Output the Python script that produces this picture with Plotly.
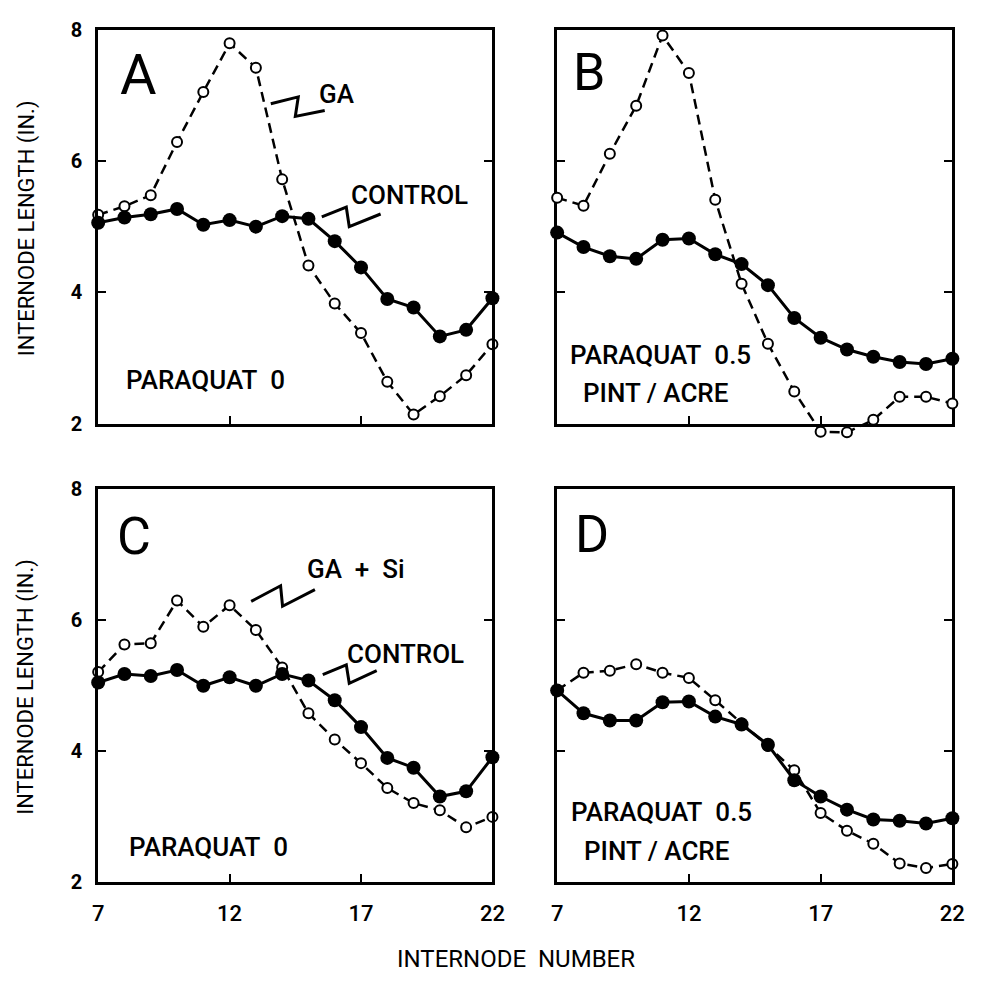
import plotly.graph_objects as go

W, H = 984, 992

# ---------------- data ----------------
internode = list(range(7, 23))

a_control = [5.06, 5.14, 5.19, 5.27, 5.03, 5.10, 5.00, 5.16, 5.12, 4.78, 4.38, 3.90, 3.77, 3.33, 3.43, 3.91]
a_ga      = [5.18, 5.31, 5.48, 6.29, 7.05, 7.79, 7.42, 5.72, 4.41, 3.83, 3.38, 2.64, 2.14, 2.42, 2.74, 3.21]

b_control = [4.91, 4.69, 4.55, 4.51, 4.80, 4.82, 4.58, 4.43, 4.11, 3.61, 3.31, 3.13, 3.02, 2.94, 2.91, 2.99]
b_ga      = [5.44, 5.32, 6.11, 6.84, 7.91, 7.34, 5.41, 4.13, 3.22, 2.49, 1.88, 1.87, 2.06, 2.41, 2.41, 2.31]

c_control = [5.05, 5.18, 5.15, 5.24, 5.00, 5.13, 5.00, 5.18, 5.08, 4.78, 4.37, 3.90, 3.75, 3.31, 3.39, 3.91]
c_ga_si   = [5.21, 5.63, 5.65, 6.30, 5.90, 6.23, 5.85, 5.28, 4.58, 4.18, 3.82, 3.44, 3.21, 3.10, 2.84, 3.00]

d_control = [4.93, 4.58, 4.47, 4.47, 4.75, 4.76, 4.53, 4.41, 4.10, 3.56, 3.31, 3.11, 2.96, 2.94, 2.90, 2.98]
d_ga      = [4.93, 5.20, 5.23, 5.33, 5.20, 5.12, 4.78, 4.43, 4.08, 3.71, 3.06, 2.79, 2.59, 2.29, 2.22, 2.28]

x_ticks = [7, 12, 17, 22]
y_ticks = [2, 4, 6, 8]
x_range = [7, 22]
y_range = [2, 8]

# ---------------- layout helpers ----------------
def px(x):
    return x / W

def py(y):
    return 1 - y / H

left_col = (94, 496)
right_col = (562, 965)
top_row = (18, 422)
bot_row = (489, 892)

FONT = "Roboto"

fig = go.Figure()

def add_series(xa, ya, yvals, kind):
    if kind == "control":
        fig.add_trace(go.Scatter(
            x=internode, y=yvals, xaxis=xa, yaxis=ya, mode="lines+markers",
            line=dict(color="black", width=3),
            marker=dict(symbol="circle", size=14, color="black"),
            cliponaxis=False, showlegend=False, hoverinfo="skip"))
    else:
        fig.add_trace(go.Scatter(
            x=internode, y=yvals, xaxis=xa, yaxis=ya, mode="lines+markers",
            line=dict(color="black", width=2.5, dash="10px,6px"),
            marker=dict(symbol="circle", size=10, color="white",
                        line=dict(color="black", width=2)),
            cliponaxis=False, showlegend=False, hoverinfo="skip"))

# panel A
add_series("x", "y", a_ga, "ga")
add_series("x", "y", a_control, "control")
# panel B: frame axes (x2/y2) need a trace to be drawn
fig.add_trace(go.Scatter(x=[], y=[], xaxis="x2", yaxis="y2", showlegend=False, hoverinfo="skip"))
# panel B data on own invisible axes with extended range (GA curve dips below frame)
add_series("x5", "y5", b_ga, "ga")
add_series("x5", "y5", b_control, "control")
# panel C
add_series("x3", "y3", c_ga_si, "ga")
add_series("x3", "y3", c_control, "control")
# panel D
add_series("x4", "y4", d_ga, "ga")
add_series("x4", "y4", d_control, "control")

layout = dict(
    width=W, height=H,
    margin=dict(l=0, r=0, t=0, b=0),
    paper_bgcolor="white", plot_bgcolor="rgba(0,0,0,0)",
    font=dict(family=FONT, color="black"),
    showlegend=False,
)

panels = [
    ("", left_col, top_row, True, False),
    ("2", right_col, top_row, False, False),
    ("3", left_col, bot_row, True, True),
    ("4", right_col, bot_row, False, True),
]
for n, col, row, show_y, show_x in panels:
    layout["xaxis" + n] = dict(
        domain=[px(col[0]), px(col[1])], range=x_range, anchor="y" + n,
        tickvals=x_ticks, ticktext=[str(v) for v in x_ticks],
        showticklabels=show_x, ticks="inside", ticklen=8, tickwidth=2, tickcolor="black",
        showline=True, linewidth=3, linecolor="black", mirror=True,
        showgrid=False, zeroline=False, ticklabelstandoff=9,
        tickfont=dict(size=22, family=FONT, weight=500),
    )
    layout["yaxis" + n] = dict(
        domain=[py(row[1]), py(row[0])], range=y_range, anchor="x" + n,
        tickvals=y_ticks, ticktext=[str(v) for v in y_ticks],
        showticklabels=show_y, ticks="inside", ticklen=8, tickwidth=2, tickcolor="black",
        showline=True, linewidth=3, linecolor="black", mirror="ticks",
        showgrid=False, zeroline=False, ticklabelstandoff=9,
        tickfont=dict(size=20, family=FONT, weight="bold"),
    )

ext = 0.3
scale = (top_row[1] - top_row[0]) / (y_range[1] - y_range[0])
layout["xaxis5"] = dict(domain=[px(right_col[0]), px(right_col[1])], range=x_range,
                        anchor="y5", visible=False, showgrid=False, zeroline=False)
layout["yaxis5"] = dict(domain=[py(top_row[1] + ext * scale), py(top_row[0])],
                        range=[y_range[0] - ext, y_range[1]], anchor="x5",
                        visible=False, showgrid=False, zeroline=False)

fig.update_layout(**layout)

# ---------------- annotations ----------------
def note(text, x, y, size, weight=500, angle=0):
    fig.add_annotation(text=text, x=px(x), y=py(y), xref="paper", yref="paper",
                       showarrow=False, xanchor="center", yanchor="middle",
                       textangle=angle,
                       font=dict(size=size, family=FONT, color="black", weight=weight))

NB = "\u00a0"
note("A", 135, 65, 56, weight=400)
note("B", 594, 62, 52, weight=400)
note("C", 131, 537, 52, weight=400)
note("D", 598, 535, 52, weight=400)

note("GA", 338, 84, 26)
note("CONTROL", 411, 188, 26)
note("PARAQUAT" + NB + NB + "0", 203, 377, 26)

note("PARAQUAT" + NB + NB + "0.5", 667, 352, 26)
note("PINT / ACRE", 662, 390, 26)

note("GA" + NB + NB + "+" + NB + NB + "Si", 357, 571, 26)
note("CONTROL", 407, 658, 26)
note("PARAQUAT" + NB + NB + "0", 206, 856, 26)

note("PARAQUAT" + NB + NB + "0.5", 668, 820, 26)
note("PINT / ACRE", 663, 860, 26)

note("INTERNODE LENGTH (IN.)", 21, 222, 22, weight=400, angle=-90)
note("INTERNODE LENGTH (IN.)", 21, 692, 22, weight=400, angle=-90)
note("INTERNODE" + NB + NB + "NUMBER", 520, 970, 24, weight=400)

# ---------------- zig-zag leader lines ----------------
leaders = [
    [(270, 94), (298, 87), (295, 107), (325, 101)],
    [(322, 210), (347, 200), (350, 220), (382, 207)],
    [(250, 604), (280, 588), (282, 609), (315, 592)],
    [(323, 679), (347, 669), (350, 688), (378, 675)],
]
for pts in leaders:
    path = "M " + " L ".join(f"{px(x):.5f},{py(y):.5f}" for x, y in pts)
    fig.add_shape(type="path", path=path, xref="paper", yref="paper",
                  line=dict(color="black", width=3))

fig.write_html("out.html", config={"displayModeBar": False},
               post_script="document.body.style.margin='0px';")
